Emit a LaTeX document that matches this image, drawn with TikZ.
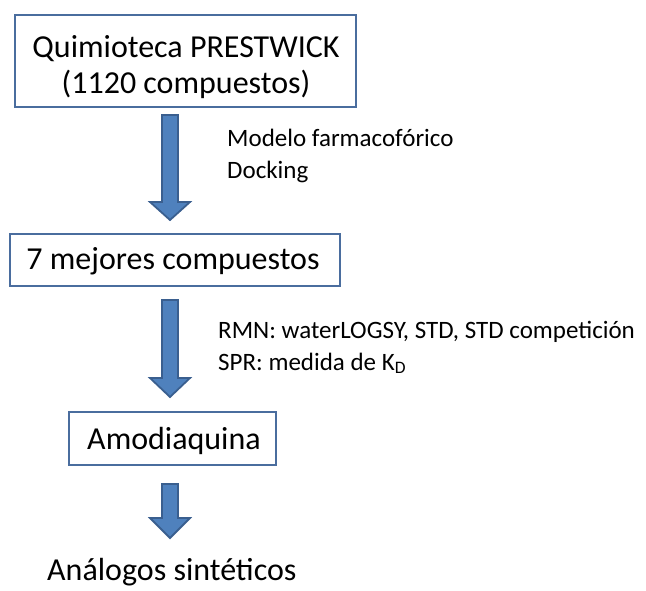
\documentclass[tikz,border=0pt]{standalone}
\usepackage{fontspec}
\setmainfont{Carlito}
\definecolor{boxline}{HTML}{4A6D9E}
\definecolor{arrfill}{HTML}{4F81BD}
\definecolor{arrline}{HTML}{3A5F8F}
\newcommand\blockarr[3]{%
  \draw[arrstyle] (162,#1) -- (178,#1) -- (178,#2) -- (190,#2) -- (170,#3)
    -- (150,#2) -- (162,#2) -- cycle;}
\begin{document}
\begin{tikzpicture}[x=1pt,y=-1pt,
  box/.style={draw=boxline, line width=2.2pt, inner sep=0pt},
  note/.style={anchor=base west, inner sep=0pt, font=\fontsize{25}{30}\selectfont},
  big/.style={anchor=base, inner sep=0pt, font=\fontsize{32}{37}\selectfont},
  arrstyle/.style={fill=arrfill, draw=arrline, line width=1.8pt, line join=miter}]
\useasboundingbox (0,0) rectangle (646,590);
\node[box, minimum width=341pt, minimum height=92pt] (b1) at (185.5,61) {};
\node[big] (t1a) at (186,57) {Quimioteca PRESTWICK};
\node[big] (t1b) at (186,93) {(1120 compuestos)};
\node[box, minimum width=330pt, minimum height=52pt] (b2) at (175,260) {};
\node[big] (t2) at (173,269) {7 mejores compuestos};
\node[box, minimum width=207pt, minimum height=53pt] (b3) at (172.5,438.5) {};
\node[big] (t3) at (174,449) {Amodiaquina};
\node[big, anchor=base west] (b4) at (47,580) {Análogos sintéticos};
\blockarr{115}{202}{220}
\blockarr{300}{378}{397}
\blockarr{484}{518}{538}
\node[note] (n1) at (227,146) {Modelo farmacofórico};
\node[note] (n2) at (227,178) {Docking};
\node[note] (n3) at (218,338) {RMN: waterLOGSY, STD, STD competición};
\node[note] (n4) at (218,370) {SPR: medida de K\textsubscript{D}};
\end{tikzpicture}
\end{document}
